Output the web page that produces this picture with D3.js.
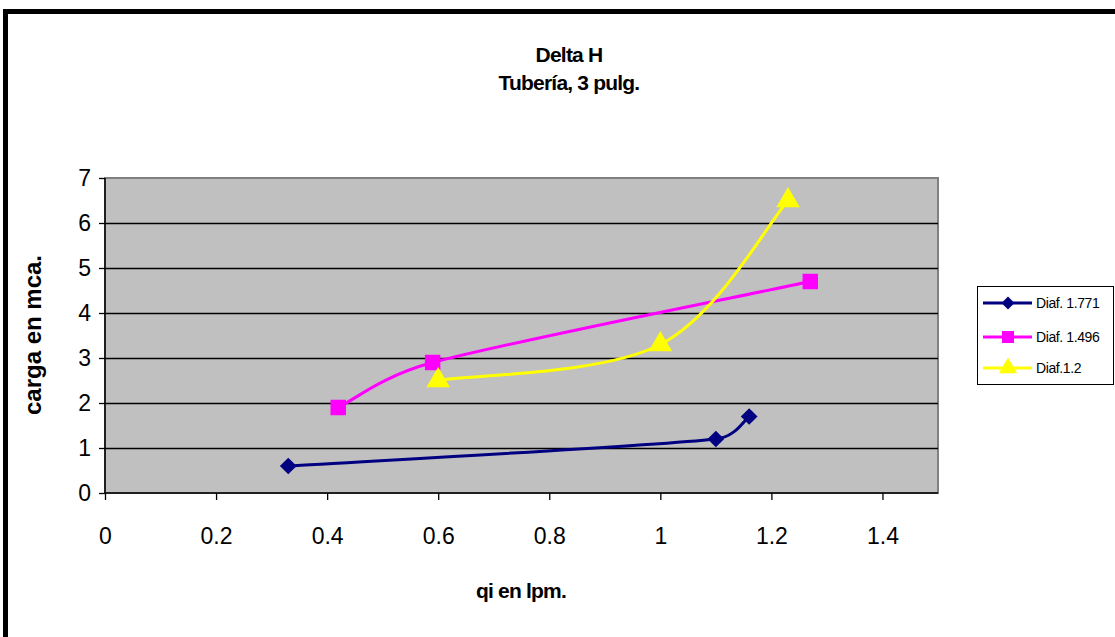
<!DOCTYPE html>
<html>
<head>
<meta charset="utf-8">
<script src="https://cdn.jsdelivr.net/npm/d3@7"></script>
<style>
  html, body { margin: 0; padding: 0; background: #fff; }
  svg { display: block; font-family: "Liberation Sans", Arial, sans-serif; }
</style>
</head>
<body>
<svg id="chart" width="1115" height="637"></svg>
<script>
// Head loss vs. flow for three orifice diameters, 3" pipe
const seriesNames = ["Diaf. 1.771", "Diaf. 1.496", "Diaf.1.2"];
const flow1771 = [0.33, 1.10, 1.16];
const head1771 = [0.6, 1.2, 1.7];
const flow1496 = [0.42, 0.59, 1.27];
const head1496 = [1.9, 2.9, 4.7];
const flow12   = [0.60, 1.00, 1.23];
const head12   = [2.5, 3.3, 6.5];
const xTicks = [0, 0.2, 0.4, 0.6, 0.8, 1, 1.2, 1.4];
const yTicks = [0, 1, 2, 3, 4, 5, 6, 7];

const colors = ["#000080", "#FF00FF", "#FFFF00"];

// marker shapes: rotated square (diamond), square, triangle
function markerPath(i, scale) {
  if (i === 0) return d3.symbol().type(d3.symbolSquare).size(140 * scale)();
  if (i === 1) return d3.symbol().type(d3.symbolSquare).size(240 * scale)();
  return d3.symbol().type(d3.symbolTriangle).size(240 * scale)();
}
const markerRotate = [45, 0, 0];

const series = [
  { name: seriesNames[0], pts: flow1771.map((x, i) => [x, head1771[i]]) },
  { name: seriesNames[1], pts: flow1496.map((x, i) => [x, head1496[i]]) },
  { name: seriesNames[2], pts: flow12.map((x, i) => [x, head12[i]]) }
];

const svg = d3.select("#chart");

// outer chart frame
svg.append("rect")
  .attr("x", 5.5).attr("y", 11.5)
  .attr("width", 1125).attr("height", 640)
  .attr("fill", "#fff").attr("stroke", "#000").attr("stroke-width", 5);

const plot = { left: 105, right: 938, top: 178, bottom: 493 };
const x = d3.scaleLinear().domain([0, 1.5]).range([plot.left, plot.right]);
const y = d3.scaleLinear().domain([0, 7]).range([plot.bottom, plot.top]);

// plot area
svg.append("rect")
  .attr("x", plot.left).attr("y", plot.top)
  .attr("width", plot.right - plot.left).attr("height", plot.bottom - plot.top)
  .attr("fill", "#C0C0C0").attr("stroke", "#808080").attr("stroke-width", 2);

// horizontal gridlines
svg.append("g").selectAll("line")
  .data(yTicks.filter(v => v > 0 && v < 7))
  .join("line")
  .attr("x1", plot.left).attr("x2", plot.right)
  .attr("y1", d => Math.round(y(d)) + 0.5).attr("y2", d => Math.round(y(d)) + 0.5)
  .attr("stroke", "#000").attr("stroke-width", 1.3);

// axes
const xAxis = svg.append("g")
  .attr("transform", `translate(0,${plot.bottom})`)
  .call(d3.axisBottom(x).tickValues(xTicks).tickSize(7).tickPadding(28)
    .tickFormat(d => String(d)));
const yAxis = svg.append("g")
  .attr("transform", `translate(${plot.left},0)`)
  .call(d3.axisLeft(y).tickValues(yTicks).tickSize(6).tickPadding(8)
    .tickFormat(d => String(d)));
[xAxis, yAxis].forEach(a => {
  a.select(".domain").attr("stroke", "#000").attr("stroke-width", 1.5);
  a.selectAll(".tick line").attr("stroke", "#000").attr("stroke-width", 1.3);
  a.selectAll(".tick text")
    .attr("fill", "#000").attr("font-size", 23)
    .attr("font-family", "'Liberation Sans', Arial, sans-serif");
});
xAxis.select(".domain").attr("d", `M${plot.left},0H${plot.right}`);
yAxis.select(".domain").attr("d", `M0,${plot.top}V${plot.bottom}`);

// smoothed line: cubic Bézier through the points, tangents from the
// neighbouring points, handle length capped at half the segment length
function smoothPath(pts) {
  const p = pts.map(d => [x(d[0]), y(d[1])]);
  const n = p.length;
  const tan = p.map((_, i) => {
    const a = p[Math.max(0, i - 1)], b = p[Math.min(n - 1, i + 1)];
    return [(b[0] - a[0]) / 6, (b[1] - a[1]) / 6];
  });
  const path = d3.path();
  path.moveTo(p[0][0], p[0][1]);
  for (let i = 0; i < n - 1; i++) {
    const L = Math.hypot(p[i + 1][0] - p[i][0], p[i + 1][1] - p[i][1]);
    const cap = (t) => {
      const h = Math.hypot(t[0], t[1]);
      const k = h > L / 2 ? (L / 2) / h : 1;
      return [t[0] * k, t[1] * k];
    };
    const t1 = cap(tan[i]), t2 = cap(tan[i + 1]);
    path.bezierCurveTo(
      p[i][0] + t1[0], p[i][1] + t1[1],
      p[i + 1][0] - t2[0], p[i + 1][1] - t2[1],
      p[i + 1][0], p[i + 1][1]);
  }
  return path.toString();
}

series.forEach((s, i) => {
  svg.append("path")
    .datum(s.pts)
    .attr("d", smoothPath)
    .attr("fill", "none")
    .attr("stroke", colors[i])
    .attr("stroke-width", 3);
});

series.forEach((s, i) => {
  svg.append("g").selectAll("path")
    .data(s.pts)
    .join("path")
    .attr("transform", d => `translate(${x(d[0])},${y(d[1])}) rotate(${markerRotate[i]})`)
    .attr("d", markerPath(i, 1))
    .attr("fill", colors[i]);
});

// titles
const bold = (sel, size, ls) => sel
  .attr("text-anchor", "middle")
  .attr("font-size", size).attr("font-weight", "bold").attr("letter-spacing", ls);
bold(svg.append("text").attr("x", 569).attr("y", 62), 21, -0.8).text("Delta H");
bold(svg.append("text").attr("x", 569).attr("y", 90), 21, -0.8).text("Tubería, 3 pulg.");
bold(svg.append("text").attr("x", 521).attr("y", 598), 21, -0.8).text("qi en lpm.");
bold(svg.append("text").attr("transform", "translate(41,335) rotate(-90)"), 24, 0)
  .text("carga en mca.");

// legend
const legend = svg.append("g");
legend.append("rect")
  .attr("x", 977.5).attr("y", 286.5)
  .attr("width", 136).attr("height", 98)
  .attr("fill", "#fff").attr("stroke", "#000").attr("stroke-width", 1);
const rowY = [303, 337, 368];
series.forEach((s, i) => {
  const g = legend.append("g").attr("transform", `translate(0,${rowY[i]})`);
  g.append("line")
    .attr("x1", 983).attr("x2", 1032)
    .attr("stroke", colors[i]).attr("stroke-width", 3);
  g.append("path")
    .attr("transform", `translate(1008,0) rotate(${markerRotate[i]})`)
    .attr("d", markerPath(i, 0.6))
    .attr("fill", colors[i]);
  g.append("text")
    .attr("x", 1036).attr("y", 5)
    .attr("font-size", 14).attr("letter-spacing", -0.4)
    .text(s.name);
});
</script>
</body>
</html>
